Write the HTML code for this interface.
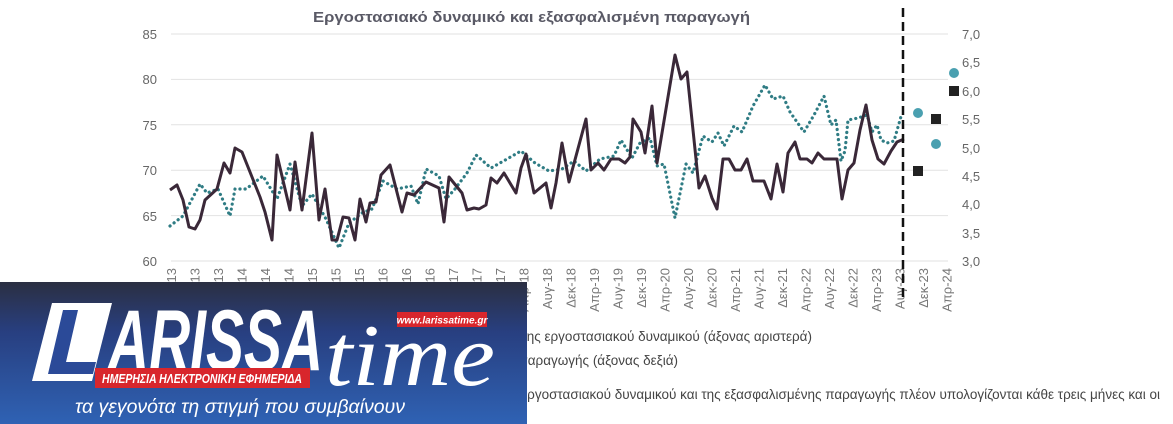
<!DOCTYPE html>
<html><head><meta charset="utf-8"><style>
html,body{margin:0;padding:0;background:#fff;width:1173px;height:424px;overflow:hidden}
svg{display:block}
</style></head><body>
<svg width="1173" height="424" viewBox="0 0 1173 424" xmlns="http://www.w3.org/2000/svg" font-family="Liberation Sans, DejaVu Sans, sans-serif">
<defs>
<linearGradient id="bg" x1="0" y1="0" x2="0" y2="1">
<stop offset="0" stop-color="#2b2f42"/><stop offset="0.35" stop-color="#283f80"/><stop offset="1" stop-color="#2f62b4"/>
</linearGradient>
</defs>
<text x="313" y="22" font-size="15" font-weight="bold" fill="#5a5a66" textLength="437" lengthAdjust="spacingAndGlyphs">Εργοστασιακό δυναμικό και εξασφαλισμένη παραγωγή</text>
<g stroke="#e2e2e2" stroke-width="1">
<line x1="171" x2="948" y1="34" y2="34"/><line x1="171" x2="948" y1="79.4" y2="79.4"/><line x1="171" x2="948" y1="124.8" y2="124.8"/><line x1="171" x2="948" y1="170.2" y2="170.2"/><line x1="171" x2="948" y1="215.6" y2="215.6"/><line x1="171" x2="948" y1="261" y2="261"/>
</g>
<g font-size="13" fill="#666" text-anchor="end">
<text x="157" y="39">85</text><text x="157" y="84">80</text><text x="157" y="130">75</text><text x="157" y="175">70</text><text x="157" y="221">65</text><text x="157" y="266">60</text>
</g>
<g font-size="13" fill="#666">
<text x="962" y="39">7,0</text><text x="962" y="67">6,5</text><text x="962" y="96">6,0</text><text x="962" y="124">5,5</text><text x="962" y="153">5,0</text><text x="962" y="181">4,5</text><text x="962" y="209">4,0</text><text x="962" y="238">3,5</text><text x="962" y="266">3,0</text>
</g>
<g font-size="13" fill="#777" text-anchor="end">
<text transform="translate(176,268) rotate(-90)">Απρ-13</text><text transform="translate(199.5,268) rotate(-90)">Αυγ-13</text><text transform="translate(223,268) rotate(-90)">Δεκ-13</text>
<text transform="translate(246.5,268) rotate(-90)">Απρ-14</text><text transform="translate(270,268) rotate(-90)">Αυγ-14</text><text transform="translate(293.5,268) rotate(-90)">Δεκ-14</text>
<text transform="translate(317,268) rotate(-90)">Απρ-15</text><text transform="translate(340.5,268) rotate(-90)">Αυγ-15</text><text transform="translate(364,268) rotate(-90)">Δεκ-15</text>
<text transform="translate(387.5,268) rotate(-90)">Απρ-16</text><text transform="translate(411,268) rotate(-90)">Αυγ-16</text><text transform="translate(434.5,268) rotate(-90)">Δεκ-16</text>
<text transform="translate(458,268) rotate(-90)">Απρ-17</text><text transform="translate(481.5,268) rotate(-90)">Αυγ-17</text><text transform="translate(505,268) rotate(-90)">Δεκ-17</text>
<text transform="translate(528.5,268) rotate(-90)">Απρ-18</text><text transform="translate(552,268) rotate(-90)">Αυγ-18</text><text transform="translate(575.5,268) rotate(-90)">Δεκ-18</text>
<text transform="translate(599,268) rotate(-90)">Απρ-19</text><text transform="translate(622.5,268) rotate(-90)">Αυγ-19</text><text transform="translate(646,268) rotate(-90)">Δεκ-19</text>
<text transform="translate(669.5,268) rotate(-90)">Απρ-20</text><text transform="translate(693,268) rotate(-90)">Αυγ-20</text><text transform="translate(716.5,268) rotate(-90)">Δεκ-20</text>
<text transform="translate(740,268) rotate(-90)">Απρ-21</text><text transform="translate(763.5,268) rotate(-90)">Αυγ-21</text><text transform="translate(787,268) rotate(-90)">Δεκ-21</text>
<text transform="translate(810.5,268) rotate(-90)">Απρ-22</text><text transform="translate(834,268) rotate(-90)">Αυγ-22</text><text transform="translate(857.5,268) rotate(-90)">Δεκ-22</text>
<text transform="translate(881,268) rotate(-90)">Απρ-23</text><text transform="translate(904.5,268) rotate(-90)">Αυγ-23</text><text transform="translate(928,268) rotate(-90)">Δεκ-23</text>
<text transform="translate(951.5,268) rotate(-90)">Απρ-24</text>
</g>
<polyline fill="none" stroke="#2f7c84" stroke-width="3.2" stroke-linecap="round" stroke-dasharray="0.1 5" points="170,226 183,216 200,184 207,193 218,189 230,216 235,189 246,189 263,176 277,199 290,164 302,206 312,194 326,219 339,248 349,223 362,213 372,209 383,181 397,189 411,186 418,204 426,169 439,176 446,199 455,189 467,173 476,155 491,168 507,159 521,151 535,163 549,171 562,169 574,161 586,171 600,159 614,156 621,140 632,158 640,143 650,138 657,166 664,164 675,218 686,164 693,173 703,136 712,142 718,133 724,146 734,126 742,132 753,106 765,85 773,99 783,96 790,112 804,132 814,115 824,96 831,125 836,120 841,161 845,151 848,120 858,118 867,115 872,132 877,125 881,140 887,143 894,141 902,113"/>
<polyline fill="none" stroke="#3a2838" stroke-width="3" stroke-linejoin="round" points="170,190 177,185 183,200 189,227 195,229 200,220 205,200 217,189 224,163 230,173 235,148 242,152 248,167 260,197 265,212 272,240 277,155 290,210 295,162 302,210 312,133 319,220 325,189 332,240 337,240 343,217 349,218 355,240 360,199 366,222 370,203 376,202 381,175 390,165 402,212 407,193 414,195 426,182 439,188 444,222 449,177 462,193 467,210 474,208 479,209 486,205 491,178 497,183 504,173 516,193 521,168 526,154 534,193 546,183 551,208 556,183 562,143 569,182 586,119 591,170 598,163 604,170 611,159 619,159 625,163 630,157 633,119 641,132 645,153 652,106 657,163 675,55 681,79 687,72 699,188 705,176 712,198 717,209 723,159 729,159 735,170 741,170 747,159 753,181 764,181 771,199 777,164 783,192 788,153 795,142 800,159 807,159 812,163 818,153 824,159 837,159 842,199 848,170 854,163 860,130 866,105 872,140 878,159 884,164 891,151 897,142 904,139"/>
<line x1="903" y1="8" x2="903" y2="300" stroke="#111" stroke-width="2.5" stroke-dasharray="9 5"/>
<circle cx="918" cy="113" r="5" fill="#4aa0b0"/><circle cx="936" cy="144" r="5" fill="#4aa0b0"/><circle cx="954" cy="73" r="5" fill="#4aa0b0"/>
<rect x="913" y="166" width="10" height="10" fill="#222"/><rect x="931" y="114" width="10" height="10" fill="#222"/><rect x="949" y="86" width="10" height="10" fill="#222"/>
<g font-size="13.5" fill="#444" text-anchor="end">
<text x="812" y="341">Ποσοστό χρήσης εργοστασιακού δυναμικού  (άξονας αριστερά)</text>
<text x="678" y="365">Εξασφαλισμένη παραγωγής (άξονας δεξιά)</text>
<text x="1160" y="399">Σημείωση: Τα στοιχεία του εργοστασιακού δυναμικού και της εξασφαλισμένης παραγωγής πλέον υπολογίζονται κάθε τρεις μήνες και οι</text>
</g>
<rect x="0" y="282" width="527" height="142" fill="url(#bg)"/>
<polygon points="52,303 112,303 92,381 32,381" fill="#fff"/>
<polygon points="63,310 78,310 66,362 96,362 93,374 48,374" fill="#2b4a98"/>
<text x="108" y="370" font-size="86" font-weight="bold" font-style="italic" fill="#fff" textLength="215" lengthAdjust="spacingAndGlyphs">ARISSA</text>
<rect x="95" y="368" width="215" height="20" fill="#d8262c"/>
<text x="202" y="383" text-anchor="middle" font-size="12.5" font-weight="bold" font-style="italic" fill="#fff" textLength="200" lengthAdjust="spacingAndGlyphs">ΗΜΕΡΗΣΙΑ ΗΛΕΚΤΡΟΝΙΚΗ ΕΦΗΜΕΡΙΔΑ</text>
<text x="325" y="385" font-family="Liberation Serif, serif" font-size="88" font-style="italic" fill="#fff" textLength="170" lengthAdjust="spacingAndGlyphs">time</text>
<rect x="397" y="312" width="90" height="15" fill="#d8262c"/>
<text x="442" y="323.5" text-anchor="middle" font-size="10" font-weight="bold" font-style="italic" fill="#fff">www.larissatime.gr</text>
<text x="240" y="413" text-anchor="middle" font-size="19.5" font-style="italic" fill="#fff" textLength="330" lengthAdjust="spacingAndGlyphs">τα γεγονότα τη στιγμή που συμβαίνουν</text>
</svg>
</body></html>
